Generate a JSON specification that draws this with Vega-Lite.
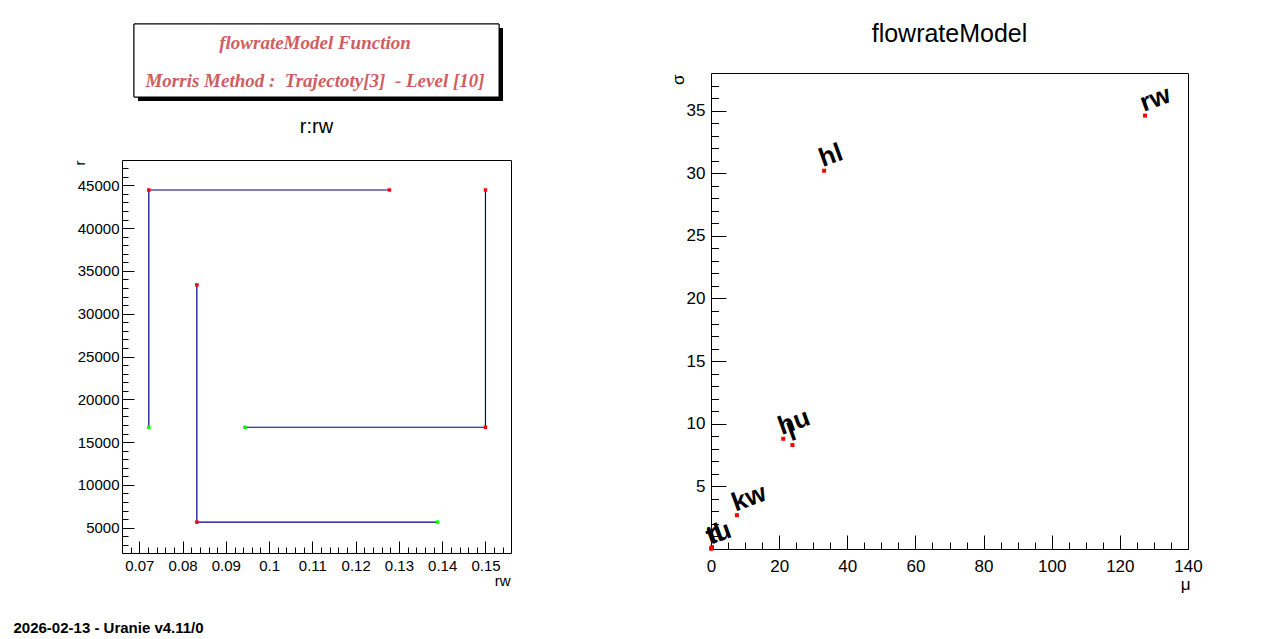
{
  "$schema": "https://vega.github.io/schema/vega-lite/v6.json",
  "background": "white",
  "padding": {"left": 13, "top": 21, "right": 0, "bottom": 0},
  "datasets": {
    "header": [
      {"line": "flowrateModel Function"},
      {"line": "Morris Method :\u00a0 Trajectoty[3]\u00a0 - Level [10]"}
    ],
    "trajectories": [
      {"traj": 1, "step": 0, "rw": 0.0722, "r": 16733},
      {"traj": 1, "step": 1, "rw": 0.0722, "r": 44456},
      {"traj": 1, "step": 2, "rw": 0.1278, "r": 44456},
      {"traj": 2, "step": 0, "rw": 0.0944, "r": 16733},
      {"traj": 2, "step": 1, "rw": 0.15, "r": 16733},
      {"traj": 2, "step": 2, "rw": 0.15, "r": 44456},
      {"traj": 3, "step": 0, "rw": 0.1389, "r": 5644},
      {"traj": 3, "step": 1, "rw": 0.0833, "r": 5644},
      {"traj": 3, "step": 2, "rw": 0.0833, "r": 33367}
    ],
    "morris": [
      {"name": "r", "mu": 0.3, "sigma": 0.15},
      {"name": "tu", "mu": 0.05, "sigma": 0.03},
      {"name": "tl", "mu": 0.1, "sigma": 0.05},
      {"name": "kw", "mu": 7.6, "sigma": 2.7},
      {"name": "hu", "mu": 21.2, "sigma": 8.8},
      {"name": "l", "mu": 23.9, "sigma": 8.3},
      {"name": "hl", "mu": 33.2, "sigma": 30.2},
      {"name": "rw", "mu": 127.4, "sigma": 34.6}
    ]
  },
  "title": {
    "text": "2026-02-13 - Uranie v4.11/0",
    "orient": "bottom",
    "anchor": "start",
    "frame": "bounds",
    "dx": -58,
    "offset": 40,
    "baseline": "alphabetic",
    "font": "Liberation Sans",
    "fontSize": 15,
    "fontWeight": "bold",
    "color": "black"
  },
  "align": "none",
  "spacing": 156,
  "hconcat": [
    {
      "bounds": "flush",
      "center": true,
      "spacing": 63,
      "vconcat": [
        {
          "width": 365,
          "height": 73,
          "view": {"stroke": null},
          "data": {"name": "header"},
          "layer": [
            {
              "mark": {"type": "rect", "color": "black", "x": 4, "y": 4, "x2": 369, "y2": 77},
              "encoding": {}
            },
            {
              "mark": {"type": "rect", "fill": "white", "stroke": "black", "strokeWidth": 1, "x": 0, "y": 0, "x2": 365, "y2": 73},
              "encoding": {}
            },
            {
              "mark": {
                "type": "text",
                "x": 181,
                "align": "center",
                "baseline": "alphabetic",
                "font": "Liberation Serif",
                "fontStyle": "italic",
                "fontWeight": "bold",
                "fontSize": 19,
                "color": "#cf5e61"
              },
              "encoding": {
                "y": {"field": "line", "type": "nominal", "sort": null, "scale": {"type": "point", "range": [25, 63], "padding": 0}, "axis": null},
                "text": {"field": "line"}
              }
            }
          ]
        },
        {
          "width": 389,
          "height": 393,
          "title": {"text": "r:rw", "anchor": "middle", "frame": "group", "fontSize": 20, "offset": 7, "baseline": "alphabetic"},
          "data": {"name": "trajectories"},
          "resolve": {"axis": {"x": "independent", "y": "independent"}},
          "layer": [
            {
              "mark": {"type": "line", "color": "#00008b", "strokeWidth": 1.2},
              "encoding": {
                "x": {
                  "field": "rw", "type": "quantitative",
                  "scale": {"domain": [0.066, 0.1559], "nice": false, "zero": false},
                  "axis": {
                    "orient": "bottom", "values": [0.07, 0.08, 0.09, 0.1, 0.11, 0.12, 0.13, 0.14, 0.15],
                    "format": "~g", "ticks": false, "labelFontSize": 15, "labelPadding": 5,
                    "title": "rw", "titleFontSize": 15, "titleAlign": "right", "titleBaseline": "alphabetic",
                    "titleX": 388, "titleY": 32
                  }
                },
                "y": {
                  "field": "r", "type": "quantitative",
                  "scale": {"domain": [2040, 47960], "nice": false, "zero": false},
                  "axis": {
                    "orient": "left", "values": [5000, 10000, 15000, 20000, 25000, 30000, 35000, 40000, 45000],
                    "format": "d", "ticks": false, "labelFontSize": 15, "labelPadding": 3,
                    "title": "r", "titleFontSize": 15, "titleAngle": -90, "titleAlign": "right", "titleBaseline": "alphabetic",
                    "titleX": -38, "titleY": 0
                  }
                },
                "detail": {"field": "traj", "type": "nominal"},
                "order": {"field": "step", "type": "quantitative"}
              }
            },
            {
              "mark": {"type": "square", "size": 12, "opacity": 1},
              "encoding": {
                "x": {
                  "field": "rw", "type": "quantitative",
                  "axis": {"orient": "bottom", "values": [0.07, 0.08, 0.09, 0.1, 0.11, 0.12, 0.13, 0.14, 0.15], "labels": false, "tickSize": -12, "title": null}
                },
                "y": {
                  "field": "r", "type": "quantitative",
                  "axis": {"orient": "left", "values": [5000, 10000, 15000, 20000, 25000, 30000, 35000, 40000, 45000], "labels": false, "tickSize": -12, "title": null}
                },
                "color": {"condition": {"test": "datum.step === 0", "value": "#00ff00"}, "value": "#ff0000"}
              }
            },
            {
              "mark": {"type": "point", "opacity": 0},
              "encoding": {
                "x": {
                  "field": "rw", "type": "quantitative",
                  "axis": {"orient": "bottom", "values": [0.068, 0.072, 0.074, 0.076, 0.078, 0.082, 0.084, 0.086, 0.088, 0.092, 0.094, 0.096, 0.098, 0.102, 0.104, 0.106, 0.108, 0.112, 0.114, 0.116, 0.118, 0.122, 0.124, 0.126, 0.128, 0.132, 0.134, 0.136, 0.138, 0.142, 0.144, 0.146, 0.148, 0.152, 0.154], "labels": false, "tickSize": -6, "title": null}
                },
                "y": {
                  "field": "r", "type": "quantitative",
                  "axis": {"orient": "left", "values": [3000, 4000, 6000, 7000, 8000, 9000, 11000, 12000, 13000, 14000, 16000, 17000, 18000, 19000, 21000, 22000, 23000, 24000, 26000, 27000, 28000, 29000, 31000, 32000, 33000, 34000, 36000, 37000, 38000, 39000, 41000, 42000, 43000, 44000, 46000, 47000], "labels": false, "tickSize": -6, "title": null}
                }
              }
            }
          ]
        }
      ]
    },
    {
      "bounds": "flush",
      "spacing": 48,
      "vconcat": [
        {
          "width": 477,
          "height": 1,
          "view": {"stroke": null},
          "data": {"values": []},
          "mark": "point"
        },
        {
          "width": 477,
          "height": 476,
          "title": {"text": "flowrateModel", "anchor": "middle", "frame": "group", "fontSize": 25, "offset": 6, "baseline": "alphabetic"},
          "data": {"name": "morris"},
          "resolve": {"axis": {"x": "independent", "y": "independent"}},
          "layer": [
            {
              "mark": {"type": "text", "font": "Liberation Sans", "fontWeight": "bold", "fontSize": 26, "angle": -20, "align": "left", "baseline": "alphabetic", "dy": -4, "color": "black"},
              "encoding": {
                "x": {
                  "field": "mu", "type": "quantitative",
                  "scale": {"domain": [0, 140], "nice": false, "zero": false},
                  "axis": {
                    "orient": "bottom", "values": [0, 20, 40, 60, 80, 100, 120, 140],
                    "ticks": false, "labelFontSize": 17, "labelPadding": 9,
                    "title": "μ", "titleFontSize": 17, "titleAlign": "right", "titleBaseline": "alphabetic",
                    "titleX": 479, "titleY": 40
                  }
                },
                "y": {
                  "field": "sigma", "type": "quantitative",
                  "scale": {"domain": [0, 38], "nice": false, "zero": false},
                  "axis": {
                    "orient": "left", "values": [5, 10, 15, 20, 25, 30, 35],
                    "ticks": false, "labelFontSize": 17, "labelPadding": 6,
                    "title": "σ", "titleFontSize": 17, "titleAngle": -90, "titleAlign": "right", "titleBaseline": "alphabetic",
                    "titleX": -28, "titleY": 1
                  }
                },
                "text": {"field": "name"}
              }
            },
            {
              "mark": {"type": "square", "size": 16, "color": "#ff0000", "opacity": 1},
              "encoding": {
                "x": {
                  "field": "mu", "type": "quantitative",
                  "axis": {"orient": "bottom", "values": [0, 20, 40, 60, 80, 100, 120, 140], "labels": false, "tickSize": -14, "title": null}
                },
                "y": {
                  "field": "sigma", "type": "quantitative",
                  "axis": {"orient": "left", "values": [5, 10, 15, 20, 25, 30, 35], "labels": false, "tickSize": -15, "title": null}
                }
              }
            },
            {
              "mark": {"type": "point", "opacity": 0},
              "encoding": {
                "x": {
                  "field": "mu", "type": "quantitative",
                  "axis": {"orient": "bottom", "values": [5, 10, 15, 25, 30, 35, 45, 50, 55, 65, 70, 75, 85, 90, 95, 105, 110, 115, 125, 130, 135], "labels": false, "tickSize": -7, "title": null}
                },
                "y": {
                  "field": "sigma", "type": "quantitative",
                  "axis": {"orient": "left", "values": [1, 2, 3, 4, 6, 7, 8, 9, 11, 12, 13, 14, 16, 17, 18, 19, 21, 22, 23, 24, 26, 27, 28, 29, 31, 32, 33, 34, 36, 37], "labels": false, "tickSize": -7.5, "title": null}
                }
              }
            }
          ]
        }
      ]
    }
  ],
  "config": {
    "font": "Liberation Sans",
    "view": {"stroke": "black", "strokeWidth": 1},
    "axis": {
      "grid": false,
      "domain": false,
      "labelFont": "Liberation Sans",
      "labelColor": "black",
      "labelFlush": false,
      "labelOverlap": false,
      "tickColor": "black",
      "tickWidth": 1,
      "titleFont": "Liberation Sans",
      "titleColor": "black",
      "titleFontWeight": "normal"
    },
    "title": {"font": "Liberation Sans", "fontWeight": "normal", "color": "black"}
  }
}
